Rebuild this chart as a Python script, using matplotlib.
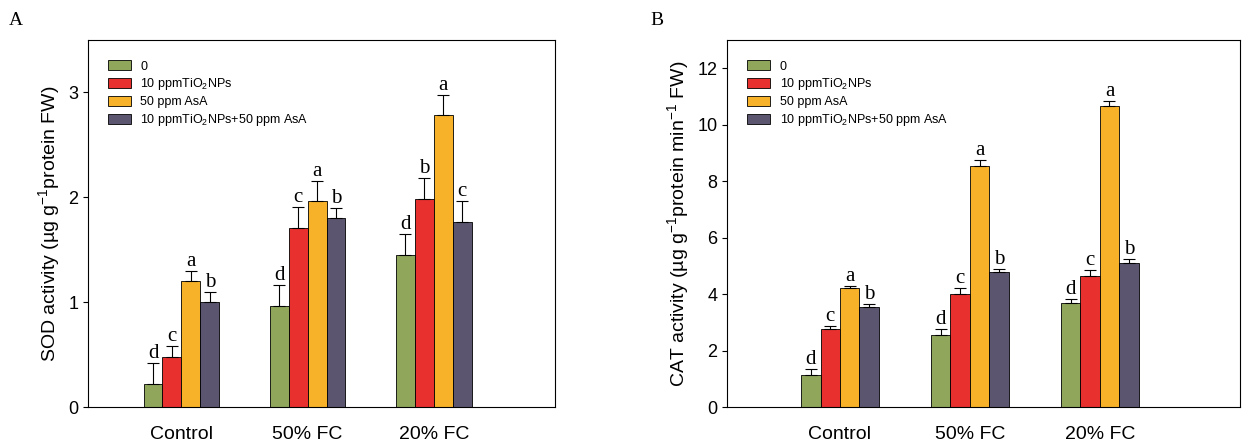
import matplotlib
matplotlib.use('Agg')
import matplotlib.pyplot as plt
import numpy as np

plt.rcParams['font.family'] = 'Liberation Sans'
plt.rcParams['mathtext.fontset'] = 'custom'
plt.rcParams['mathtext.rm'] = 'Liberation Sans'

groups = ['Control', '50% FC', '20% FC']
series = ['0', '10 ppmTiO$_2$NPs', '50 ppm AsA', '10 ppmTiO$_2$NPs+50 ppm AsA']
colors = ['#8FA65B', '#E8312F', '#F7B22A', '#5B5570']

sod = [[0.22, 0.96, 1.45], [0.48, 1.71, 1.98], [1.20, 1.96, 2.78], [1.00, 1.80, 1.76]]
sod_err = [[0.20, 0.20, 0.20], [0.10, 0.20, 0.20], [0.10, 0.20, 0.20], [0.10, 0.10, 0.20]]
sod_let = [['d', 'd', 'd'], ['c', 'c', 'b'], ['a', 'a', 'a'], ['b', 'b', 'c']]

cat = [[1.15, 2.55, 3.68], [2.78, 4.00, 4.65], [4.20, 8.55, 10.65], [3.55, 4.78, 5.10]]
cat_err = [[0.20, 0.20, 0.15], [0.10, 0.20, 0.20], [0.10, 0.20, 0.20], [0.10, 0.10, 0.15]]
cat_let = [['d', 'd', 'd'], ['c', 'c', 'c'], ['a', 'a', 'a'], ['b', 'b', 'b']]

fig = plt.figure(figsize=(12.55, 4.47), dpi=100)
ax1 = fig.add_axes([88/1255, 40/447, 467/1255, 367/447])
ax2 = fig.add_axes([727/1255, 40/447, 513/1255, 367/447])

def panel(ax, vals, errs, lets, ymax, step, ylabel, tag, xlim):
    x = np.arange(len(groups))
    w = 0.15
    for i in range(4):
        xs = x + (i - 1.5) * w
        ax.bar(xs, vals[i], w, color=colors[i], edgecolor='black', linewidth=0.6,
               label=series[i], zorder=2)
        ax.errorbar(xs, vals[i], yerr=[np.zeros(3), errs[i]], fmt='none',
                    ecolor='black', elinewidth=0.8, capsize=4, capthick=0.8, zorder=3)
        for j in range(3):
            ax.text(xs[j], vals[i][j] + errs[i][j], lets[i][j], ha='center',
                    va='bottom', family='Liberation Serif', fontsize=15)
    ax.set_xlim(*xlim)
    ax.set_ylim(0, ymax)
    ax.set_yticks(np.arange(0, ymax, step))
    ax.set_xticks(x)
    ax.set_xticklabels(groups, fontsize=14)
    ax.tick_params(axis='x', length=0, pad=14)
    ax.tick_params(axis='y', labelsize=13)
    ax.set_ylabel(ylabel, fontsize=14)
    ax.legend(loc='upper left', fontsize=9, frameon=False, handlelength=1.8,
              handleheight=0.9, borderaxespad=1.2, labelspacing=0.3)
    ax.text(-0.17 if tag == 'A' else -0.15, 1.04, tag, transform=ax.transAxes,
            family='Liberation Serif', fontsize=14)

panel(ax1, sod, sod_err, sod_let, 3.5, 1, 'SOD activity (µg g$^{-1}$protein FW)', 'A', (-0.74, 2.96))
panel(ax2, cat, cat_err, cat_let, 13, 2, 'CAT activity (µg g$^{-1}$protein min$^{-1}$ FW)', 'B', (-0.87, 3.08))

fig.savefig('out.png', dpi=100)
